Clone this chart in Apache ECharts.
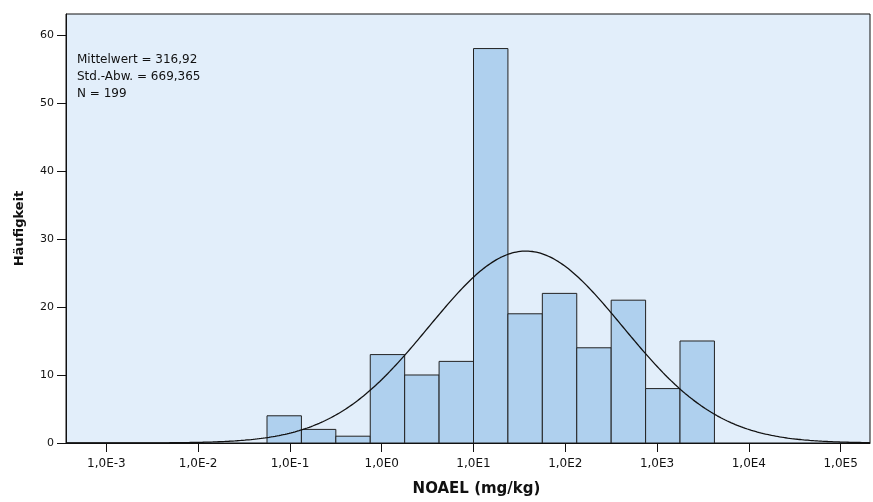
<!DOCTYPE html>
<html>
<head>
<meta charset="utf-8">
<script src="https://cdn.jsdelivr.net/npm/echarts@6/dist/echarts.min.js"></script>
<style>html,body{margin:0;padding:0;background:#fff}#c{width:873px;height:502px}</style>
</head>
<body>
<div id="c"></div>
<script>
// log10 bin edges (NOAEL, mg/kg)
const binLower = [-1.25, -0.875, -0.5, -0.125, 0.25, 0.625, 1.0, 1.375, 1.75, 2.125, 2.5, 2.875, 3.25];
const binUpper = [-0.875, -0.5, -0.125, 0.25, 0.625, 1.0, 1.375, 1.75, 2.125, 2.5, 2.875, 3.25, 3.625];
const counts = [4, 2, 1, 13, 10, 12, 58, 19, 22, 14, 21, 8, 15];
const tickPositions = [-3, -2, -1, 0, 1, 2, 3, 4, 5];
const tickLabels = ['1,0E-3', '1,0E-2', '1,0E-1', '1,0E0', '1,0E1', '1,0E2', '1,0E3', '1,0E4', '1,0E5'];
const yTicks = [0, 10, 20, 30, 40, 50, 60];
const statsLines = ['Mittelwert = 316,92', 'Std.-Abw. = 669,365', 'N = 199'];
// fitted normal curve parameters (in log10 space)
const curveMean = 1.57;
const curveSd = 1.055;
const curveN = 199;
const binWidth = 0.375;
const xMin = -3.44, xMax = 5.32;

const curve = [];
for (let i = 0; i <= 400; i++) {
  const x = xMin + (xMax - xMin) * i / 400;
  const z = (x - curveMean) / curveSd;
  curve.push([x, curveN * binWidth / (curveSd * Math.sqrt(2 * Math.PI)) * Math.exp(-0.5 * z * z)]);
}
const barData = binLower.map((l, i) => [l, binUpper[i], counts[i]]);
const labelMap = {};
tickPositions.forEach((p, i) => labelMap[p] = tickLabels[i]);

const chart = echarts.init(document.getElementById('c'));
const font = '"DejaVu Sans", Verdana, sans-serif';
chart.setOption({
  animation: false,
  grid: {left: 66, right: 3, top: 14, bottom: 58, show: true, backgroundColor: '#e2eefa', borderColor: '#111', borderWidth: 1},
  xAxis: {
    type: 'value', min: xMin, max: xMax,
    name: 'NOAEL (mg/kg)', nameLocation: 'middle', nameGap: 39,
    nameTextStyle: {fontFamily: font, fontSize: 15, fontWeight: 'bold', color: '#111', padding: [0, 0, 0, 17]},
    axisLine: {show: true, onZero: false, lineStyle: {color: '#111'}},
    axisTick: {show: true, length: 9, customValues: tickPositions, lineStyle: {color: '#111'}},
    axisLabel: {customValues: tickPositions, formatter: v => labelMap[v] || '', fontFamily: font, fontSize: 12, color: '#111', margin: 15},
    splitLine: {show: false}
  },
  yAxis: {
    type: 'value', min: 0, max: 63.08,
    name: 'Häufigkeit', nameLocation: 'middle', nameGap: 40,
    nameTextStyle: {fontFamily: font, fontSize: 13, fontWeight: 'bold', color: '#111'},
    axisLine: {show: true, onZero: false, lineStyle: {color: '#111'}},
    axisTick: {show: true, length: 9, customValues: yTicks, lineStyle: {color: '#111'}},
    axisLabel: {customValues: yTicks, fontFamily: font, fontSize: 11, color: '#111', margin: 12},
    splitLine: {show: false}
  },
  series: [
    {
      type: 'custom', data: barData, clip: true,
      encode: {x: [0, 1], y: 2},
      renderItem: (params, api) => {
        const p0 = api.coord([api.value(0), api.value(2)]);
        const p1 = api.coord([api.value(1), 0]);
        return {type: 'rect', shape: {x: p0[0], y: p0[1], width: p1[0] - p0[0], height: p1[1] - p0[1]},
          style: {fill: '#afd0ee', stroke: '#222', lineWidth: 1}};
      }
    },
    {
      type: 'line', data: curve, showSymbol: false, smooth: false, z: 5,
      lineStyle: {color: '#111', width: 1.3}
    }
  ],
  graphic: statsLines.map((t, i) => ({
    type: 'text', left: 77, top: 54 + i * 17,
    style: {text: t, font: '12px ' + font, fill: '#111'}
  }))
});
</script>
</body>
</html>
